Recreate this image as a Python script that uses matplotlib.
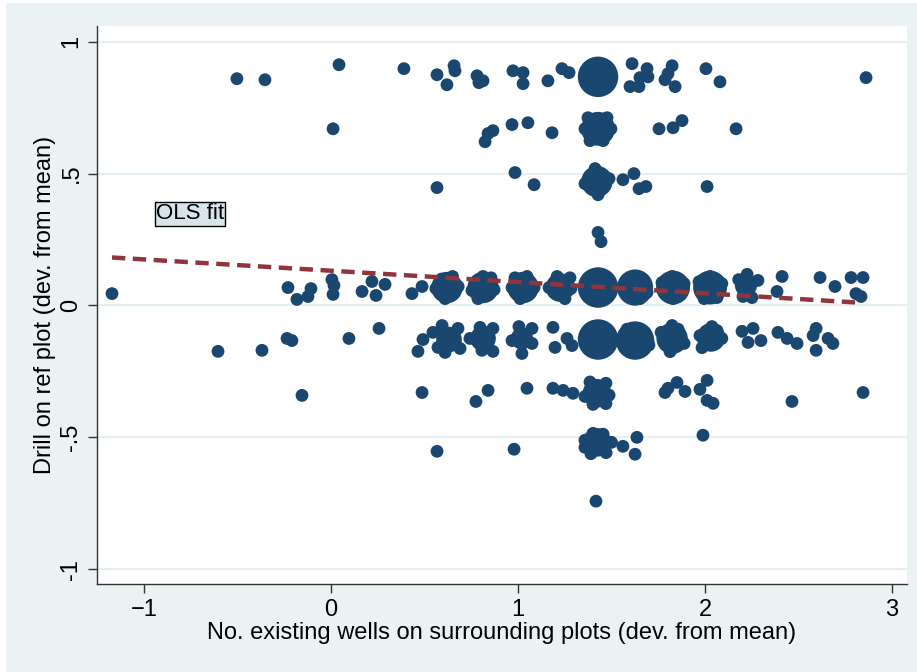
import matplotlib
matplotlib.use("Agg")
import matplotlib.pyplot as plt
from matplotlib.patches import Rectangle

plt.rcParams['font.family'] = ['Liberation Sans', 'DejaVu Sans']

# rows of drill outcome (y ~ 0.87, 0.67, 0.46, 0.25, 0.07, -0.13, -0.33, -0.53, -0.74)
# w = marker weight (1 = single obs)
r1_x = [-0.503, -0.353, 0.043, 0.390, 0.567, 0.620, 0.658, 0.663, 0.781, 0.813, 0.791,
        0.973, 1.027, 1.027, 1.160, 1.235, 1.273, 1.428, 1.610, 1.599, 1.647, 1.690,
        1.695, 1.652, 1.824, 1.786, 1.840, 1.802, 2.005, 2.080, 2.861]
r1_y = [0.860, 0.856, 0.913, 0.898, 0.875, 0.837, 0.909, 0.890, 0.871, 0.852, 0.845,
        0.890, 0.883, 0.841, 0.852, 0.898, 0.883, 0.867, 0.917, 0.830, 0.830, 0.898,
        0.867, 0.864, 0.909, 0.856, 0.830, 0.879, 0.898, 0.848, 0.864]
r1_w = [1] * 17 + [10] + [1] * 13

r2_x = [0.011, 0.824, 0.840, 0.866, 0.968, 1.053, 1.182, 1.428, 1.374, 1.476, 1.385,
        1.455, 1.358, 1.497, 1.754, 1.829, 1.877, 2.166]
r2_y = [0.670, 0.621, 0.652, 0.663, 0.686, 0.693, 0.655, 0.670, 0.712, 0.712, 0.625,
        0.625, 0.670, 0.670, 0.670, 0.674, 0.701, 0.670]
r2_w = [1] * 7 + [7] + [1] * 10

r3_x = [0.567, 0.984, 1.086, 1.422, 1.412, 1.428, 1.358, 1.487, 1.561, 1.620, 1.647, 1.684, 2.011]
r3_y = [0.447, 0.504, 0.458, 0.470, 0.519, 0.420, 0.462, 0.481, 0.477, 0.500, 0.443, 0.451, 0.451]
r3_w = [1, 1, 1, 6, 1, 1, 1, 1, 1, 1, 1, 1, 1]

r4_x = [1.428, 1.444]
r4_y = [0.277, 0.242]
r4_w = [1, 1]

r5_x = [-1.171, -0.230, -0.182, -0.123, -0.107, 0.005, 0.016, 0.011, 0.166, 0.219, 0.241,
        0.289, 0.433, 0.487,
        0.620, 0.650, 0.610, 0.561, 0.680, 0.590,
        0.813, 0.813, 0.786, 0.754, 0.872, 0.856,
        1.027, 1.048, 1.011, 0.968, 1.086, 0.984,
        1.225, 1.209, 1.278, 1.251, 1.166, 1.283,
        1.428,
        1.626, 1.636, 1.567, 1.690, 1.652,
        1.829, 1.824, 1.770, 1.888, 1.829,
        2.027, 2.027, 1.968, 2.090, 2.064, 1.995,
        2.219, 2.225, 2.283, 2.180, 2.203, 2.251,
        2.412, 2.385, 2.615, 2.695, 2.781, 2.845, 2.807, 2.834]
r5_y = [0.045, 0.068, 0.023, 0.034, 0.064, 0.098, 0.076, 0.042, 0.053, 0.091, 0.038,
        0.080, 0.045, 0.072,
        0.068, 0.110, 0.026, 0.064, 0.072, 0.100,
        0.068, 0.110, 0.026, 0.057, 0.060, 0.105,
        0.068, 0.110, 0.026, 0.068, 0.068, 0.105,
        0.068, 0.110, 0.105, 0.026, 0.068, 0.064,
        0.068,
        0.068, 0.110, 0.060, 0.050, 0.026,
        0.068, 0.110, 0.087, 0.083, 0.026,
        0.068, 0.110, 0.090, 0.083, 0.030, 0.026,
        0.076, 0.118, 0.095, 0.098, 0.034, 0.030,
        0.110, 0.053, 0.106, 0.072, 0.106, 0.106, 0.045, 0.034]
r5_w = ([1] * 14 + [6] + [1] * 5 + [6] + [1] * 5 + [6] + [1] * 5 + [5] + [1] * 5
        + [10] + [8] + [1] * 4 + [7] + [1] * 4 + [7] + [1] * 5 + [3] + [1] * 5 + [1] * 8)

r6_x = [-0.604, -0.369, -0.235, -0.209, 0.096, 0.257, 0.492, 0.465,
        0.631, 0.594, 0.545, 0.679, 0.572, 0.690, 0.610, 0.647,
        0.813, 0.743, 0.797, 0.866, 0.807, 0.866,
        1.021, 1.005, 1.075, 0.968, 1.021, 1.075,
        1.187, 1.198, 1.262, 1.289,
        1.428,
        1.626, 1.583, 1.652, 1.540, 1.700,
        1.824, 1.824, 1.765, 1.888, 1.813, 1.856,
        2.032, 2.037, 1.973, 2.090, 1.984, 2.064,
        2.198, 2.257, 2.230, 2.299, 2.390, 2.439, 2.492, 2.594, 2.578, 2.594, 2.658, 2.684]
r6_y = [-0.174, -0.170, -0.125, -0.133, -0.125, -0.087, -0.129, -0.174,
        -0.129, -0.076, -0.102, -0.087, -0.159, -0.163, -0.178, -0.114,
        -0.125, -0.125, -0.083, -0.087, -0.170, -0.174,
        -0.125, -0.080, -0.087, -0.133, -0.182, -0.144,
        -0.083, -0.159, -0.125, -0.152,
        -0.129,
        -0.133, -0.090, -0.090, -0.133, -0.150,
        -0.125, -0.076, -0.102, -0.144, -0.175, -0.090,
        -0.121, -0.080, -0.114, -0.125, -0.160, -0.095,
        -0.098, -0.087, -0.140, -0.133, -0.102, -0.125, -0.144, -0.087, -0.114, -0.170, -0.125, -0.144]
r6_w = ([1] * 8 + [4] + [1] * 7 + [4] + [1] * 5 + [3] + [1] * 5 + [1] * 4
        + [10] + [9] + [1] * 4 + [6] + [1] * 5 + [5] + [1] * 5 + [1] * 12)

r7_x = [-0.155, 0.487, 0.775, 0.840, 1.048, 1.187, 1.241, 1.294,
        1.422, 1.385, 1.470, 1.358, 1.487, 1.401, 1.470,
        1.786, 1.802, 1.850, 1.893, 1.973, 2.011, 2.011, 2.043, 2.465, 2.845]
r7_y = [-0.341, -0.330, -0.364, -0.322, -0.314, -0.314, -0.322, -0.333,
        -0.333, -0.290, -0.295, -0.345, -0.340, -0.375, -0.372,
        -0.330, -0.314, -0.292, -0.326, -0.318, -0.284, -0.360, -0.371, -0.364, -0.330]
r7_w = [1] * 8 + [5] + [1] * 6 + [1] * 10

r8_x = [0.567, 0.979, 1.422, 1.401, 1.455, 1.358, 1.500, 1.358, 1.390, 1.471,
        1.561, 1.636, 1.626, 1.989, 1.417]
r8_y = [-0.553, -0.545, -0.519, -0.485, -0.488, -0.511, -0.519, -0.538, -0.562, -0.558,
        -0.534, -0.500, -0.564, -0.492, -0.742]
r8_w = [1, 1, 5] + [1] * 12

# OLS fit line end points
ols_x = [-1.171, 2.818]
ols_y = [0.182, 0.011]

xs = r1_x + r2_x + r3_x + r4_x + r5_x + r6_x + r7_x + r8_x
ys = r1_y + r2_y + r3_y + r4_y + r5_y + r6_y + r7_y + r8_y
ws = r1_w + r2_w + r3_w + r4_w + r5_w + r6_w + r7_w + r8_w

bg = '#EAF2F3'
fig = plt.figure(figsize=(9.17, 6.72), dpi=100, facecolor='white')
fig.patches.append(Rectangle((6 / 917, 0), 911 / 917, 669 / 672, transform=fig.transFigure,
                             facecolor=bg, edgecolor='none', zorder=-10))
ax = fig.add_axes([0.1058, 0.131, 0.8833, 0.8304])
ax.set_facecolor('white')

ax.scatter(xs, ys, s=[85 * w for w in ws], color='#1A476F', edgecolors='none', zorder=2)
ax.plot(ols_x, ols_y, color='#90353B', lw=3.2, linestyle=(0, (3.0, 1.7)),
        dash_capstyle='butt', zorder=3)

ax.text(-0.754, 0.348, 'OLS fit', fontsize=16, ha='center', va='center',
        bbox=dict(boxstyle='square,pad=0.06', facecolor='#D7E4EA', edgecolor='black', lw=1))

ax.set_xlim(-1.251, 3.08)
ax.set_ylim(-1.056, 1.06)
ax.set_xticks([-1, 0, 1, 2, 3])
ax.set_yticks([-1, -0.5, 0, 0.5, 1])
ax.set_yticklabels(['-1', '-.5', '0', '.5', '1'], rotation=90, va='center')
ax.tick_params(labelsize=17, length=6.5, width=1, color='#333333', pad=4)
ax.yaxis.grid(True, color='#E6EFF2', lw=1.5)
ax.set_axisbelow(True)
for sp in ['top', 'right']:
    ax.spines[sp].set_visible(False)
for sp in ['left', 'bottom']:
    ax.spines[sp].set_color('#333333')
    ax.spines[sp].set_linewidth(1)

ax.set_xlabel('No. existing wells on surrounding plots (dev. from mean)', fontsize=17, labelpad=1)
ax.set_ylabel('Drill on ref plot (dev. from mean)', fontsize=17, labelpad=3)

fig.savefig('out.png', dpi=100, facecolor=fig.get_facecolor())
